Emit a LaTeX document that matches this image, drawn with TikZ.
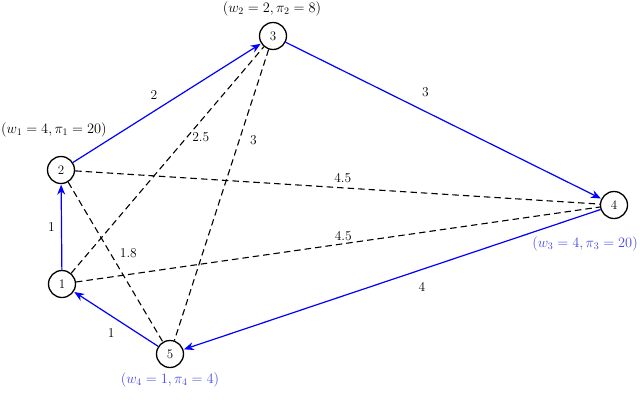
\documentclass[tikz,border=0pt]{standalone}
\usetikzlibrary{arrows.meta}
\definecolor{lblblue}{RGB}{70,70,235}
\begin{document}
\begin{tikzpicture}[x=1pt,y=-1pt,
  vert/.style={circle,draw,line width=1.3pt,minimum size=27pt,inner sep=0pt,font=\fontsize{13}{15}\selectfont},
  flow/.style={draw=blue,line width=1.2pt,-{Stealth[length=10pt,width=8pt]},shorten >=0.5pt},
  cut/.style={draw,line width=1.1pt,dash pattern=on 6.5pt off 4pt},
  wl/.style={font=\fontsize{13.8}{16}\selectfont,inner sep=0pt},
  el/.style={font=\fontsize{13.5}{15}\selectfont,inner sep=1pt}]
\useasboundingbox (0,0) rectangle (640,413);
\node[vert] (n1) at (62,284) {1};
\node[vert] (n2) at (61,170) {2};
\node[vert] (n3) at (273,36) {3};
\node[vert] (n4) at (614,205) {4};
\node[vert] (n5) at (170,354) {5};
\node[wl] (l3) at (272,9) {$(w_2=2,\pi_2=8)$};
\node[wl,anchor=west] (l2) at (1,130) {$(w_1=4,\pi_1=20)$};
\node[wl,text=lblblue,anchor=east] (l4) at (638,244) {$(w_3=4,\pi_3=20)$};
\node[wl,text=lblblue] (l5) at (170,380) {$(w_4=1,\pi_4=4)$};
\draw[cut] (n1) -- node[el,pos=0.6,xshift=14pt] {2.5} (n3);
\draw[cut] (n3) -- node[el,pos=0.31,xshift=14pt] {3} (n5);
\draw[cut] (n2) -- node[el,pos=0.51,yshift=10pt] {4.5} (n4);
\draw[cut] (n1) -- node[el,pos=0.51,yshift=8pt] {4.5} (n4);
\draw[cut] (n2) -- node[el,pos=0.446,xshift=18pt] {1.8} (n5);
\draw[flow] (n2) -- node[el,pos=0.43,yshift=16pt] {2} (n3);
\draw[flow] (n3) -- node[el,pos=0.443,yshift=19pt] {3} (n4);
\draw[flow] (n4) -- node[el,pos=0.428,yshift=-18pt] {4} (n5);
\draw[flow] (n1) -- node[el,pos=0.5,xshift=-10pt] {1} (n2);
\draw[flow] (n5) -- node[el,pos=0.556,yshift=-17pt] {1} (n1);
\end{tikzpicture}
\end{document}
